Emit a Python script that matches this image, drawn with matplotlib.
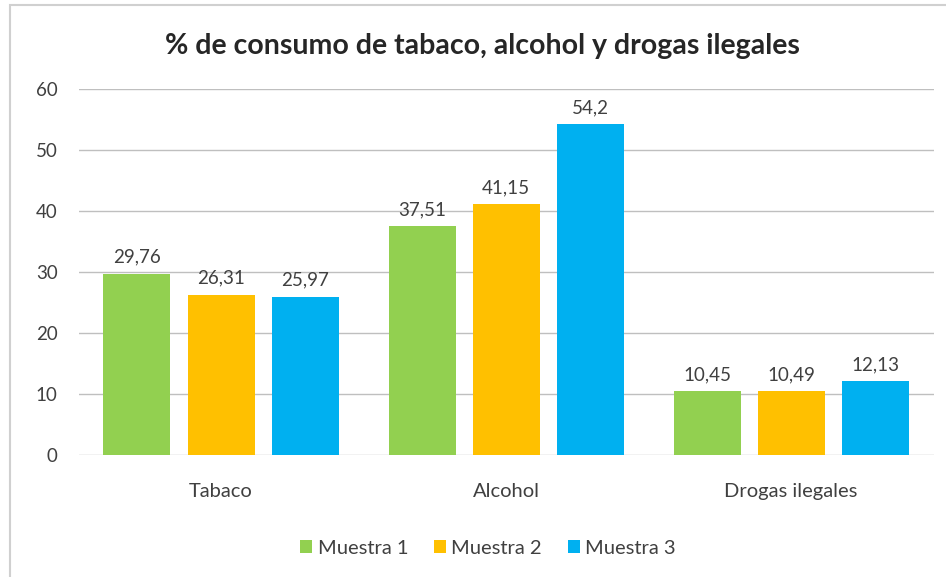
import numpy as np
import matplotlib.pyplot as plt
from matplotlib.patches import Rectangle

categories = ["Tabaco", "Alcohol", "Drogas ilegales"]
series = ["Muestra 1", "Muestra 2", "Muestra 3"]
muestra_1 = [29.76, 37.51, 10.45]
muestra_2 = [26.31, 41.15, 10.49]
muestra_3 = [25.97, 54.2, 12.13]
colors = ["#92D050", "#FFC000", "#00B0F0"]

plt.rcParams["font.family"] = ["Lato", "DejaVu Sans"]

fig = plt.figure(figsize=(9.46, 5.77), dpi=100)
ax = fig.add_axes([0.083, 0.211, 0.904, 0.635])

# light frame round the chart area
fig.patches.append(Rectangle((0.011, -0.01), 1.1, 1.0 - 0.009 + 0.01,
                             transform=fig.transFigure, fill=False,
                             edgecolor="#d0d0d0", linewidth=1.5))

x = np.arange(len(categories))
width = 0.235
offset = 0.295
for i, (vals, name) in enumerate(zip([muestra_1, muestra_2, muestra_3], series)):
    bars = ax.bar(x + (i - 1) * offset, vals, width, color=colors[i], label=name, zorder=3)
    for b, v in zip(bars, vals):
        ax.text(b.get_x() + b.get_width() / 2, v + 1.3, f"{v:g}".replace(".", ","),
                ha="center", va="bottom", fontsize=13.5, color="#404040")

ax.set_xlim(-0.5, 2.5)
ax.set_ylim(0, 60)
ax.set_yticks(np.arange(0, 61, 10))
ax.yaxis.grid(True, color="#bfbfbf", linewidth=1, zorder=0)
for s in ax.spines.values():
    s.set_visible(False)
ax.tick_params(axis="both", length=0, labelsize=13.5, labelcolor="#404040")
ax.tick_params(axis="y", pad=15)
ax.tick_params(axis="x", pad=20, labelsize=14.5)
ax.set_xticks(x)
ax.set_xticklabels(categories)

fig.text(0.51, 0.92, "% de consumo de tabaco, alcohol y drogas ilegales",
         ha="center", va="center", fontsize=20.5, fontweight="bold", color="#262626")

fig.legend(loc="center", bbox_to_anchor=(0.516, 0.05), ncol=3, frameon=False,
           fontsize=14.5, handlelength=0.6, handleheight=0.6, handletextpad=0.25,
           columnspacing=1.3, labelcolor="#404040")

fig.savefig("out.png", dpi=100)
